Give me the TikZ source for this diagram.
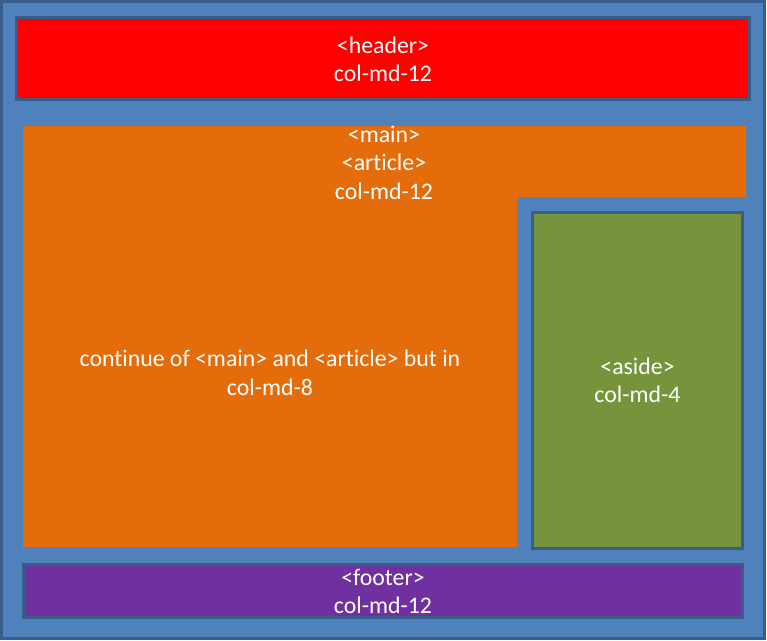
\documentclass[tikz,border=0pt]{standalone}
\usepackage{fontspec}
\setmainfont[Ligatures={NoCommon}]{Carlito}
\definecolor{bgblue}{HTML}{4F81BD}
\definecolor{edgeblue}{HTML}{385D8A}
\definecolor{hdrred}{HTML}{FF0000}
\definecolor{mainorange}{HTML}{E46C0A}
\definecolor{asidegreen}{HTML}{77933C}
\definecolor{footpurple}{HTML}{7030A0}
\tikzset{
  box/.style={draw=edgeblue, line width=3pt},
  lbl/.style={text=white, align=center, inner sep=0pt, font=\fontsize{23.8}{28.5}\selectfont},
}
\begin{document}
\begin{tikzpicture}[x=1pt, y=-1pt]
\useasboundingbox (0,0) rectangle (767,640);
% outer container
\draw[box, fill=bgblue] (1.5,1.5) rectangle (764.5,638.5);
% header
\draw[box, fill=hdrred] (16.5,17) rectangle (749.5,99);
\node[lbl] (header) at (383,59.5) {<header>\\col-md-12};
% main / article (L-shaped)
\fill[mainorange] (23,126) -- (746,126) -- (746,197) -- (517,197) -- (517,547) -- (23,547) -- cycle;
\node[lbl] (main) at (384,162.5) {<main>\\<article>\\col-md-12};
\node[lbl] (cont) at (270,373) {continue of <main> and <article> but in\\col-md-8};
% aside
\draw[box, fill=asidegreen] (532.5,212.5) rectangle (742.5,548);
\node[lbl] (aside) at (637.5,380.5) {<aside>\\col-md-4};
% footer
\draw[box, fill=footpurple] (23.5,564.5) rectangle (742.5,617.5);
\node[lbl] (footer) at (383,591.5) {<footer>\\col-md-12};
\end{tikzpicture}
\end{document}
